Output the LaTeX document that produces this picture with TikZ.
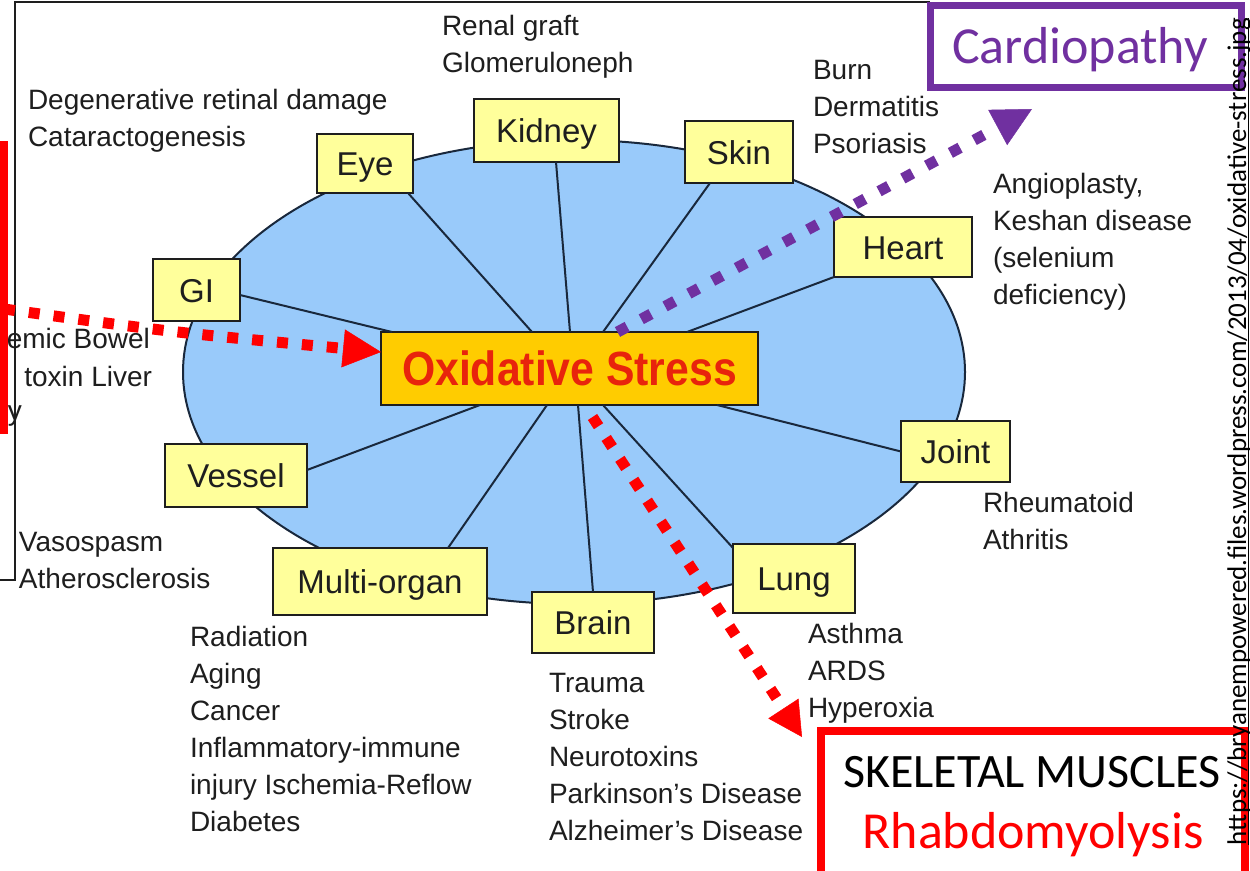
\documentclass[tikz,border=0pt]{standalone}
\usepackage{fontspec}
\setmainfont{Liberation Sans}
\newfontfamily\calib{Carlito}
\newfontfamily\oxfont[FakeStretch=0.89]{Liberation Sans}
\usetikzlibrary{arrows.meta}
\definecolor{ellblue}{RGB}{153,202,250}
\definecolor{boxyellow}{RGB}{255,255,155}
\definecolor{oxorange}{RGB}{255,204,0}
\definecolor{oxred}{RGB}{232,36,12}
\definecolor{ink}{RGB}{30,30,30}
\definecolor{spokecol}{RGB}{25,40,60}
\definecolor{purp}{RGB}{112,48,160}
\definecolor{brightred}{RGB}{255,0,0}
\begin{document}
\begin{tikzpicture}[x=1pt,y=-1pt,
  every node/.style={outer sep=0pt},
  organ/.style={draw=ink, fill=boxyellow, line width=2pt, inner sep=0pt,
    text height=24pt, text depth=0pt, font=\fontsize{33}{36}\selectfont, text=ink},
  lbl/.style={anchor=base west, inner sep=0pt, align=left, text=ink,
    font=\fontsize{28}{37}\selectfont},
  spoke/.style={draw=spokecol, line width=2pt},
  redflow/.style={draw=brightred, line width=11pt, dash pattern=on 11pt off 14pt},
  purpflow/.style={draw=purp, line width=11pt, dash pattern=on 11pt off 16pt},
]
\useasboundingbox (0,0) rectangle (1250,870);
\fill[white] (0,0) rectangle (1250,870);
% frame of the underlying picture
\draw[line width=2.5pt, ink] (930,2) -- (15,2) -- (15,580) -- (0,580);
% ellipse
\filldraw[fill=ellblue, draw=spokecol, line width=2pt] (574,372) ellipse [x radius=391pt, y radius=232pt];

% central node
\node[draw=ink, fill=oxorange, line width=2pt, minimum width=377pt, minimum height=73pt,
  inner sep=0pt, text height=34pt, text depth=0pt, text=oxred,
  font=\oxfont\bfseries\fontsize{48}{50}\selectfont] (ox) at (569.5,368.5) {Oxidative Stress};

% organ boxes
\node[organ, minimum width=96pt, minimum height=59pt] (eye) at (365,163.5) {Eye};
\node[organ, minimum width=145pt, minimum height=63pt] (kidney) at (546.5,130.5) {Kidney};
\node[organ, minimum width=108pt, minimum height=62pt] (skin) at (739,152) {Skin};
\node[organ, minimum width=138pt, minimum height=60pt] (heart) at (903,247) {Heart};
\node[organ, minimum width=87pt, minimum height=62pt] (gi) at (196.5,290) {GI};
\node[organ, minimum width=142pt, minimum height=63pt] (vessel) at (236,475.5) {Vessel};
\node[organ, minimum width=214pt, minimum height=67pt] (multi) at (380,581.5) {Multi-organ};
\node[organ, minimum width=122pt, minimum height=61pt] (brain) at (593,622.5) {Brain};
\node[organ, minimum width=122pt, minimum height=69pt] (lung) at (794,578.5) {Lung};
\node[organ, minimum width=109pt, minimum height=61pt] (joint) at (955.5,451.5) {Joint};

% spokes
\draw[spoke] ([yshift=-5pt]gi.east) -- ([xshift=11pt]ox.north west);
\draw[spoke] ([xshift=-5pt]eye.south east) -- ([xshift=-37.5pt]ox.north);
\draw[spoke] ([xshift=9.5pt]kidney.south) -- ([xshift=0.5pt]ox.north);
\draw[spoke] ([xshift=-29pt]skin.south) -- ([xshift=33.5pt]ox.north);
\draw[spoke] (heart.south west) -- ([xshift=117.5pt]ox.north);
\draw[spoke] (joint.west) -- ([xshift=147.5pt]ox.south);
\draw[spoke] ([yshift=-4pt]lung.north west) -- ([xshift=33.5pt]ox.south);
\draw[spoke] (brain.north) -- ([xshift=8.5pt]ox.south);
\draw[spoke] ([xshift=68pt]multi.north) -- ([xshift=-22.5pt]ox.south);
\draw[spoke] ([yshift=5.5pt]vessel.east) -- ([xshift=-89.5pt]ox.south);

% labels (anchor = baseline of the last line)
\node[lbl] (renal) at (442,72) {Renal graft\\Glomeruloneph};
\node[lbl] (eyelbl) at (28,146) {Degenerative retinal damage\\Cataractogenesis};
\node[lbl] (skinlbl) at (813,153) {Burn\\Dermatitis\\Psoriasis};
\node[lbl] (heartlbl) at (993,304) {Angioplasty,\\Keshan disease\\(selenium\\deficiency)};
\node[lbl] (jointlbl) at (983,549) {Rheumatoid\\Athritis};
\node[lbl] (lunglbl) at (808,717) {Asthma\\ARDS\\Hyperoxia};
\node[lbl] (vessellbl) at (19,588) {Vasospasm\\Atherosclerosis};
\node[lbl] (multilbl) at (190,831) {Radiation\\Aging\\Cancer\\Inflammatory-immune\\injury Ischemia-Reflow\\Diabetes};
\node[lbl] (brainlbl) at (549,840) {Trauma\\Stroke\\Neurotoxins\\Parkinson’s Disease\\Alzheimer’s Disease};
\node[lbl, anchor=base east] (gilbla) at (150,348) {emic Bowel};
\node[lbl, anchor=base east] (gilblb) at (152,386) {toxin Liver};
\node[lbl, anchor=base east] (gilblc) at (22,420) {y};

% slide overlay boxes
\node[draw=brightred, line width=8pt, minimum width=60pt, minimum height=285pt, inner sep=0pt] (lbox) at (-26,287.5) {};
\node[draw=purp, line width=7pt, minimum width=311pt, minimum height=82pt, inner sep=0pt] (cardio) at (1085.5,46) {};
\node[anchor=base, inner sep=0pt, text=purp, font=\calib\fontsize{52}{56}\selectfont] (cardiotxt) at (1080,63) {Cardiopathy};
\node[draw=brightred, line width=8pt, minimum width=424pt, minimum height=149pt, inner sep=0pt] (skel) at (1033,805.5) {};
\node[anchor=base, inner sep=0pt, text=black, font=\calib\fontsize{48}{52}\selectfont] (skeltxt) at (1032,787) {SKELETAL MUSCLES};
\node[anchor=base, inner sep=0pt, text=brightred, font=\calib\fontsize{52}{56}\selectfont] (rhabdo) at (1033,848) {Rhabdomyolysis};

% dashed arrows
\draw[redflow, -{Triangle[length=38pt,width=38pt,line width=0.5pt]}]
  ([yshift=-21.5pt]lbox.east) .. controls (170,332) .. ([yshift=16.5pt]ox.west);
\draw[purpflow, -{Triangle[length=39pt,width=40pt,line width=0.5pt]}]
  ([xshift=48pt]ox.north) -- ([xshift=-53.5pt,yshift=-22pt]cardio.south);
\draw[redflow, -{Triangle[length=34pt,width=36pt,line width=0.5pt]}]
  ([xshift=23pt,yshift=-12pt]ox.south) -- ([xshift=-19pt,yshift=-6pt]skel.north west);

% source URL
\node[rotate=90, anchor=base west, inner sep=0pt, text=black, font=\calib\fontsize{27}{30}\selectfont] (url) at (1246,845)
  {https://bryanempowered.files.wordpress.com/2013/04/oxidative-stress.jpg};
\draw[line width=1.3pt] ([xshift=2.5pt]url.base west) -- ([xshift=2.5pt]url.base east);
\end{tikzpicture}
\end{document}
